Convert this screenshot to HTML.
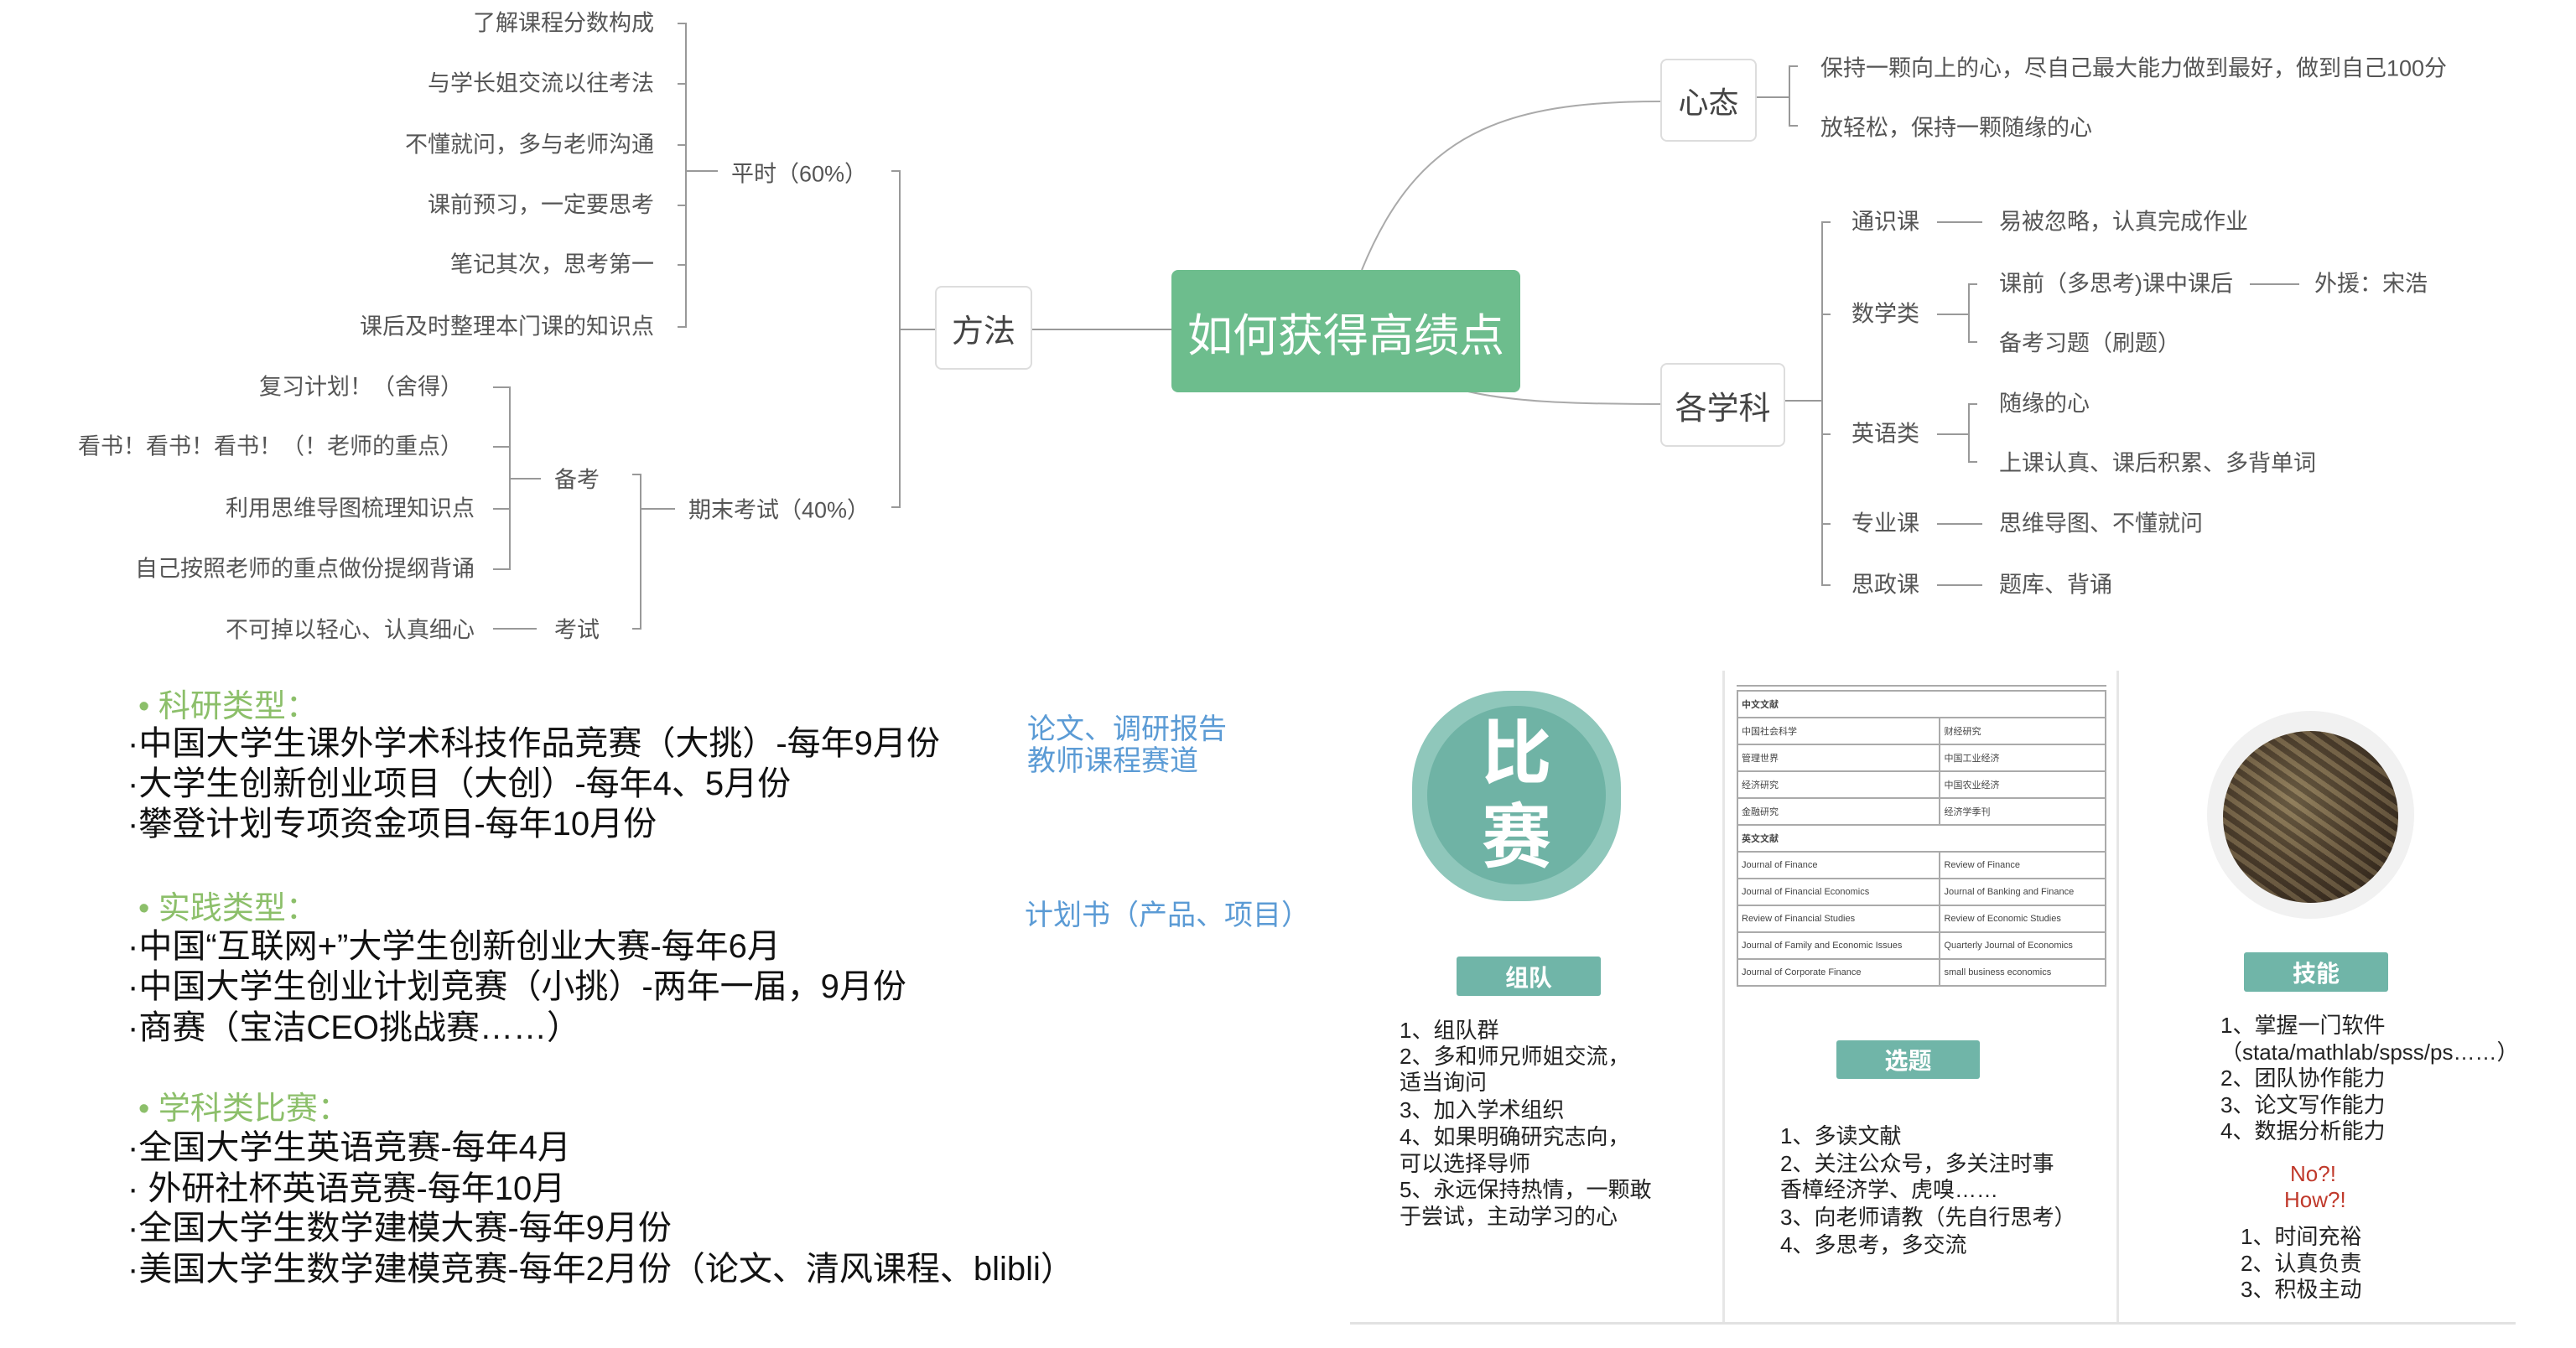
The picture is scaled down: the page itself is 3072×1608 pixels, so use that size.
<!DOCTYPE html>
<html><head><meta charset="utf-8"><style>
body{margin:0;width:3072px;height:1608px;background:#fff;position:relative;overflow:hidden;font-family:"Liberation Sans","Noto Sans CJK SC",sans-serif;}
.t{position:absolute;white-space:nowrap;line-height:1;transform:translateY(-50%);color:#555;font-size:27px;}
.r{transform:translate(-100%,-50%);text-align:right;}
.box{position:absolute;border:2px solid #ddd;border-radius:8px;background:#fff;display:flex;align-items:center;justify-content:center;color:#444;box-sizing:border-box;}
.k{position:absolute;white-space:nowrap;line-height:1;transform:translateY(-50%);color:#111;font-size:40px;}
.g{color:#8cbf6a;font-size:38px;}
.b{color:#5b9bd5;font-size:34px;}
.s{position:absolute;white-space:nowrap;line-height:1;transform:translateY(-50%);color:#222;font-size:26px;}
.btn{position:absolute;background:#70b5a8;color:#fff;font-weight:bold;font-size:28px;display:flex;align-items:center;justify-content:center;border-radius:3px;}
table{position:absolute;left:2071px;top:823px;width:441px;border-collapse:collapse;font-size:11px;color:#444;}
td{border:2px solid #aaa;height:30px;padding:0 4px;}
</style></head><body>
<div style="position:absolute;left:0;top:0;width:3072px;height:768px;overflow:hidden;">
<svg width="3072" height="800" style="position:absolute;left:0;top:0" fill="none" stroke="#999" stroke-width="2">
<path d="M808 28 H818 V390 H808 M808 100 H818 M808 173 H818 M808 245 H818 M808 316 H818 M818 204 H856"/>
<path d="M1063 204 H1073 V605 H1063 M1073 393 H1115 M1231 393 H1397"/>
<path d="M588 462 H608 V679 H588 M588 533 H608 M588 607 H608 M608 571 H645 M588 750 H640"/>
<path d="M754 566 H764 V750 H754 M764 607 H805"/>
<path d="M1624 322 C1690 160 1790 121 1980 121" stroke="#aaa"/>
<path d="M1732 462 C1790 480 1880 482 1980 482" stroke="#aaa"/>
<path d="M2095 116 H2134 M2144 79 H2134 V150 H2144"/>
<path d="M2129 478 H2173 M2183 265 H2173 V698 H2183 M2173 375 H2183 M2173 518 H2183 M2173 625 H2183"/>
<path d="M2310 265 H2364 M2310 625 H2364 M2310 698 H2364 M2310 375 H2348 M2358 339 H2348 V408 H2358 M2310 518 H2348 M2358 482 H2348 V551 H2358 M2683 339 H2742"/>
</svg>
<div class="t r" style="left:780px;top:28px">了解课程分数构成</div>
<div class="t r" style="left:780px;top:100px">与学长姐交流以往考法</div>
<div class="t r" style="left:780px;top:173px">不懂就问，多与老师沟通</div>
<div class="t r" style="left:780px;top:245px">课前预习，一定要思考</div>
<div class="t r" style="left:780px;top:316px">笔记其次，思考第一</div>
<div class="t r" style="left:780px;top:390px">课后及时整理本门课的知识点</div>
<div class="t" style="left:872px;top:208px">平时（60%）</div>
<div class="t" style="left:821px;top:609px">期末考试（40%）</div>
<div class="t" style="left:661px;top:573px">备考</div>
<div class="t" style="left:661px;top:752px">考试</div>
<div class="t r" style="left:552px;top:462px">复习计划！（舍得）</div>
<div class="t r" style="left:552px;top:533px">看书！看书！看书！（！老师的重点）</div>
<div class="t r" style="left:566px;top:607px">利用思维导图梳理知识点</div>
<div class="t r" style="left:566px;top:679px">自己按照老师的重点做份提纲背诵</div>
<div class="t r" style="left:566px;top:752px">不可掉以轻心、认真细心</div>
<div class="box" style="left:1115px;top:341px;width:116px;height:100px;font-size:38px">方法</div>
<div style="position:absolute;left:1397px;top:322px;width:416px;height:146px;background:#6dbd8d;border-radius:8px;color:#fff;font-size:54px;display:flex;align-items:center;justify-content:center;">如何获得高绩点</div>
<div class="box" style="left:1980px;top:70px;width:115px;height:99px;font-size:36px">心态</div>
<div class="box" style="left:1980px;top:433px;width:149px;height:100px;font-size:38px">各学科</div>
<div class="t" style="left:2171px;top:82px">保持一颗向上的心，尽自己最大能力做到最好，做到自己100分</div>
<div class="t" style="left:2171px;top:153px">放轻松，保持一颗随缘的心</div>
<div class="t" style="left:2208px;top:265px">通识课</div>
<div class="t" style="left:2208px;top:375px">数学类</div>
<div class="t" style="left:2208px;top:518px">英语类</div>
<div class="t" style="left:2208px;top:625px">专业课</div>
<div class="t" style="left:2208px;top:698px">思政课</div>
<div class="t" style="left:2384px;top:265px">易被忽略，认真完成作业</div>
<div class="t" style="left:2384px;top:339px">课前（多思考)课中课后</div>
<div class="t" style="left:2760px;top:339px">外援：宋浩</div>
<div class="t" style="left:2384px;top:410px">备考习题（刷题）</div>
<div class="t" style="left:2384px;top:482px">随缘的心</div>
<div class="t" style="left:2384px;top:553px">上课认真、课后积累、多背单词</div>
<div class="t" style="left:2384px;top:625px">思维导图、不懂就问</div>
<div class="t" style="left:2384px;top:698px">题库、背诵</div>
</div>

<div class="k g" style="left:165px;top:843px">• 科研类型：</div>
<div class="k" style="left:152px;top:887px">·中国大学生课外学术科技作品竞赛（大挑）-每年9月份</div>
<div class="k" style="left:152px;top:935px">·大学生创新创业项目（大创）-每年4、5月份</div>
<div class="k" style="left:152px;top:983px">·攀登计划专项资金项目-每年10月份</div>
<div class="k g" style="left:165px;top:1084px">• 实践类型：</div>
<div class="k" style="left:152px;top:1129px">·中国“互联网+”大学生创新创业大赛-每年6月</div>
<div class="k" style="left:152px;top:1177px">·中国大学生创业计划竞赛（小挑）-两年一届，9月份</div>
<div class="k" style="left:152px;top:1226px">·商赛（宝洁CEO挑战赛……）</div>
<div class="k g" style="left:165px;top:1323px">• 学科类比赛：</div>
<div class="k" style="left:152px;top:1369px">·全国大学生英语竞赛-每年4月</div>
<div class="k" style="left:152px;top:1418px">· 外研社杯英语竞赛-每年10月</div>
<div class="k" style="left:152px;top:1465px">·全国大学生数学建模大赛-每年9月份</div>
<div class="k" style="left:152px;top:1514px">·美国大学生数学建模竞赛-每年2月份（论文、清风课程、blibli）</div>
<div class="k b" style="left:1225px;top:870px">论文、调研报告</div>
<div class="k b" style="left:1225px;top:908px">教师课程赛道</div>
<div class="k b" style="left:1222px;top:1092px">计划书（产品、项目）</div>

<div style="position:absolute;left:2054px;top:800px;width:3px;height:780px;background:#e6e6e6"></div>
<div style="position:absolute;left:2524px;top:800px;width:3px;height:780px;background:#e6e6e6"></div>
<div style="position:absolute;left:1610px;top:1577px;width:1390px;height:3px;background:#e2e2e2"></div>

<div style="position:absolute;left:1684px;top:824px;width:249px;height:251px;border-radius:46%;background:#8fc7bb"></div>
<div style="position:absolute;left:1702px;top:842px;width:213px;height:213px;border-radius:50%;background:#6fb3a5;color:#fff;font-weight:bold;font-size:84px;line-height:100px;text-align:center;display:flex;flex-direction:column;justify-content:center;"><div>比</div><div>赛</div></div>
<div class="btn" style="left:1737px;top:1141px;width:172px;height:47px">组队</div>
<div class="s" style="left:1669px;top:1229px">1、组队群</div>
<div class="s" style="left:1669px;top:1260px">2、多和师兄师姐交流，</div>
<div class="s" style="left:1669px;top:1291px">适当询问</div>
<div class="s" style="left:1669px;top:1324px">3、加入学术组织</div>
<div class="s" style="left:1669px;top:1356px">4、如果明确研究志向，</div>
<div class="s" style="left:1669px;top:1388px">可以选择导师</div>
<div class="s" style="left:1669px;top:1419px">5、永远保持热情，一颗敢</div>
<div class="s" style="left:1669px;top:1451px">于尝试，主动学习的心</div>

<div style="position:absolute;left:2071px;top:817px;width:441px;height:2px;background:#aaa"></div>
<table>
<tr><td colspan="2"><b>中文文献</b></td></tr>
<tr><td>中国社会科学</td><td>财经研究</td></tr>
<tr><td>管理世界</td><td>中国工业经济</td></tr>
<tr><td>经济研究</td><td>中国农业经济</td></tr>
<tr><td>金融研究</td><td>经济学季刊</td></tr>
<tr><td colspan="2"><b>英文文献</b></td></tr>
<tr><td>Journal of Finance</td><td>Review of Finance</td></tr>
<tr><td>Journal of Financial Economics</td><td>Journal of Banking and Finance</td></tr>
<tr><td>Review of Financial Studies</td><td>Review of Economic Studies</td></tr>
<tr><td>Journal of Family and Economic Issues</td><td>Quarterly Journal of Economics</td></tr>
<tr><td>Journal of Corporate Finance</td><td>small business economics</td></tr>
</table>
<div class="btn" style="left:2190px;top:1241px;width:171px;height:46px">选题</div>
<div class="s" style="left:2123px;top:1355px">1、多读文献</div>
<div class="s" style="left:2123px;top:1388px">2、关注公众号，多关注时事</div>
<div class="s" style="left:2123px;top:1419px">香樟经济学、虎嗅……</div>
<div class="s" style="left:2123px;top:1452px">3、向老师请教（先自行思考）</div>
<div class="s" style="left:2123px;top:1485px">4、多思考，多交流</div>

<div style="position:absolute;left:2632px;top:848px;width:247px;height:248px;border-radius:50%;background:#f1f1f1"></div>
<div style="position:absolute;left:2651px;top:872px;width:209px;height:205px;border-radius:50%;background:repeating-linear-gradient(35deg,rgba(160,140,100,.35) 0 6px,rgba(40,30,20,.35) 6px 13px),radial-gradient(circle at 40% 40%,#8a7a5a,#5a4a36 45%,#3a2e22 80%,#2a2018);"></div>
<div class="btn" style="left:2676px;top:1136px;width:172px;height:47px">技能</div>
<div class="s" style="left:2648px;top:1223px">1、掌握一门软件</div>
<div class="s" style="left:2648px;top:1255px">（stata/mathlab/spss/ps……）</div>
<div class="s" style="left:2648px;top:1286px">2、团队协作能力</div>
<div class="s" style="left:2648px;top:1318px">3、论文写作能力</div>
<div class="s" style="left:2648px;top:1349px">4、数据分析能力</div>
<div class="s" style="left:2731px;top:1400px;color:#c0392b">No?!</div>
<div class="s" style="left:2724px;top:1431px;color:#c0392b">How?!</div>
<div class="s" style="left:2672px;top:1475px">1、时间充裕</div>
<div class="s" style="left:2672px;top:1507px">2、认真负责</div>
<div class="s" style="left:2672px;top:1538px">3、积极主动</div>
</body></html>
